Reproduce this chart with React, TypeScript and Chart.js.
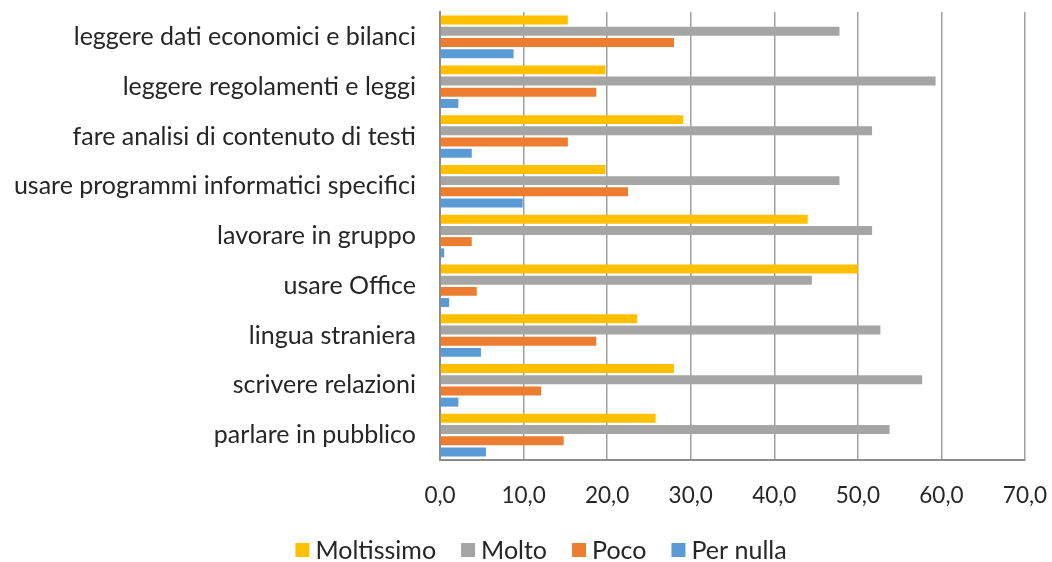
import React, { useEffect, useRef } from "react";
import { Chart, registerables } from "chart.js";

Chart.register(...registerables);

const categories = [
  "leggere dati economici e bilanci",
  "leggere regolamenti e leggi",
  "fare analisi di contenuto di testi",
  "usare programmi informatici specifici",
  "lavorare in gruppo",
  "usare Office",
  "lingua straniera",
  "scrivere relazioni",
  "parlare in pubblico",
];
const seriesNames = ["Moltissimo", "Molto", "Poco", "Per nulla"];
const moltissimo = [15.3, 19.8, 29.1, 19.8, 44.0, 50.0, 23.6, 28.0, 25.8];
const molto = [47.8, 59.3, 51.7, 47.8, 51.7, 44.5, 52.7, 57.7, 53.8];
const poco = [28.0, 18.7, 15.3, 22.5, 3.8, 4.4, 18.7, 12.1, 14.8];
const perNulla = [8.8, 2.2, 3.8, 9.9, 0.5, 1.1, 4.9, 2.2, 5.5];
const seriesColors = ["#FFC000", "#A5A5A5", "#ED7D31", "#5B9BD5"];
const xMin = 0;
const xMax = 70;
const xStep = 10;

const FONT = "Lato, 'Open Sans', sans-serif";
const TEXT = "#262626";

const legendPlugin = {
  id: "customLegend",
  afterDraw(chart: any) {
    const ctx = chart.ctx;
    const items = chart.data.datasets.map((d: any) => ({ label: d.label, color: d.backgroundColor }));
    ctx.save();
    ctx.font = `25px ${FONT}`;
    const box = 14;
    const gapText = 6;
    const gapItem = 25;
    const widths = items.map((it: any) => box + gapText + ctx.measureText(it.label).width);
    const total = widths.reduce((a: number, b: number) => a + b, 0) + gapItem * (items.length - 1);
    let x = 541 - total / 2;
    const y = 550;
    ctx.textBaseline = "middle";
    ctx.textAlign = "left";
    items.forEach((it: any, i: number) => {
      ctx.fillStyle = it.color;
      ctx.fillRect(x, y - box / 2, box, box);
      ctx.fillStyle = TEXT;
      ctx.fillText(it.label, x + box + gapText, y + 1);
      x += widths[i] + gapItem;
    });
    ctx.restore();
  },
};

export default function App() {
  const ref = useRef<HTMLCanvasElement | null>(null);
  useEffect(() => {
    document.body.style.margin = "0";
    const values = [moltissimo, molto, poco, perNulla];
    const chart = new Chart(ref.current as HTMLCanvasElement, {
      type: "bar",
      data: {
        labels: categories,
        datasets: seriesNames.map((name, i) => ({
          label: name,
          data: values[i],
          backgroundColor: seriesColors[i],
          borderWidth: 0,
          barPercentage: 0.8,
          categoryPercentage: 0.9,
        })),
      },
      options: {
        indexAxis: "y",
        responsive: false,
        animation: false,
        layout: { padding: { top: 12, right: 27, bottom: 0, left: 0 } },
        plugins: { legend: { display: false }, tooltip: { enabled: false } },
        scales: {
          x: {
            min: xMin,
            max: xMax,
            ticks: {
              stepSize: xStep,
              padding: 22,
              color: TEXT,
              font: { family: FONT, size: 22.5 },
              callback: (v: any) => Number(v).toFixed(1).replace(".", ","),
            },
            grid: { color: "#A0A0A0", lineWidth: 1.5, drawTicks: false },
            border: { display: true, color: "#8C8C8C", width: 2 },
            afterFit: (axis: any) => {
              axis.height = 102;
              axis.paddingLeft = 0;
              axis.paddingRight = 0;
            },
          },
          y: {
            ticks: {
              padding: 24,
              color: TEXT,
              font: { family: FONT, size: 25 },
            },
            grid: { display: false, drawTicks: false },
            border: { display: true, color: "#8C8C8C", width: 2 },
            afterFit: (axis: any) => {
              axis.width = 440;
              axis.paddingTop = 0;
              axis.paddingBottom = 0;
            },
          },
        },
      },
      plugins: [legendPlugin],
    });
    return () => chart.destroy();
  }, []);
  return (
    <div style={{ width: 1052, height: 562, background: "#fff" }}>
      <canvas ref={ref} width={1052} height={562} />
    </div>
  );
}
